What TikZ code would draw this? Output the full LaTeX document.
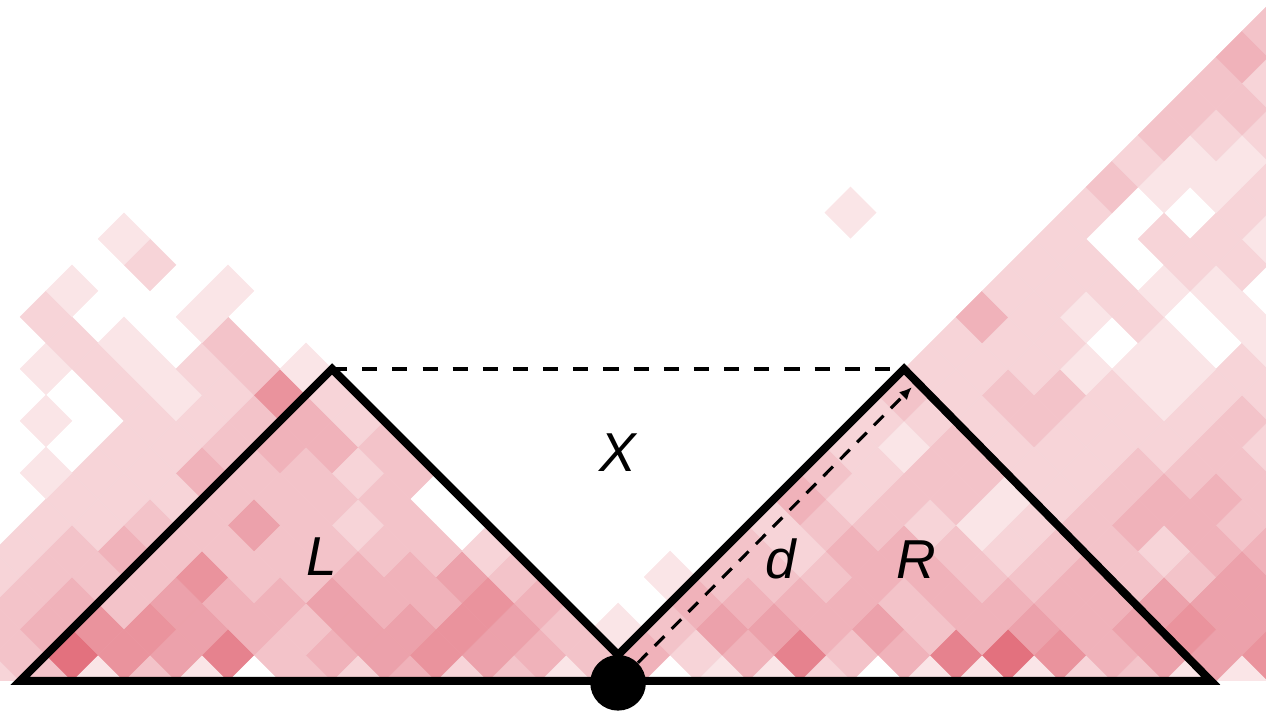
\documentclass[tikz,border=0pt]{standalone}
\usepackage{fontspec}
\setmainfont{Liberation Sans}
\usetikzlibrary{arrows.meta}
\definecolor{heat}{RGB}{218,68,86}

\begin{document}
\begin{tikzpicture}[x=0.5cm, y=0.5cm,
  tri/.style={line width=4.4pt, line join=miter},
  guide/.style={line width=2pt, dash pattern=on 0.29cm off 0.29cm},
  darr/.style={line width=1.7pt, dash pattern=on 0.26cm off 0.2cm, -{Latex[length=2.4mm,width=2.2mm]}},
  hub/.style={circle, fill=black, inner sep=0pt, minimum size=1.07cm},
  lab/.style={font=\fontsize{30}{36}\selectfont\itshape, inner sep=0pt}
]
\useasboundingbox (-23.77,-1.154) rectangle (24.92,26.19);

% contact map: row b = distance, values from bin a0 in steps of 2
\begin{scope}
\clip (-23.77,0) rectangle (24.92,26.19);
\foreach \b/\s/\vals in {
  0/-24/{2,3,1,3,1,0,3,2,4,2,3,1,2,0,1,1,2,0,1,1,1,2,3,1,1},
  1/-23/{3,8,6,5,7,3,4,5,6,5,4,3,4,2,4,7,3,4,7,8,6,4,5,5,6},
  2/-24/{3,4,6,6,5,4,3,5,5,6,5,3,1,3,5,5,4,5,3,4,5,4,5,6,5},
  3/-23/{3,4,3,5,4,4,5,4,4,6,4,0,0,4,4,4,4,3,4,4,4,4,5,5,5},
  4/-24/{2,3,3,3,6,3,3,4,4,5,3,0,0,1,3,3,3,4,4,3,3,4,3,3,5},
  5/-23/{2,3,4,3,3,3,3,3,3,2,0,0,0,0,3,2,4,4,3,2,3,3,2,4,4},
  6/-24/{0,2,2,3,3,5,3,2,3,0,0,0,0,0,0,2,3,3,2,1,2,3,4,4,3},
  7/-21/{2,2,2,3,3,3,3}, 7/7/{4,2,3,3,1,2,3,4,4,3},
  8/-22/{1,2,2,4,3,3,2,3}, 8/8/{3,2,3,3,2,2,3,3,3},
  9/-19/{2,2,3,4,4,3}, 9/9/{2,1,3,2,2,2,2,3,2},
  10/-22/{1,0,2,2,3,4,2}, 10/10/{2,2,2,3,2,2,2,3},
  11/-19/{2,1,2,6,2}, 11/11/{3,2,3,3,2,1,2,2},
  12/-22/{1,2,1,2,3,1}, 12/12/{2,2,2,1,1,1,2},
  13/-21/{2,1,0,3}, 13/13/{2,2,2,0,1,0,1},
  14/-22/{2,0,0,1}, 14/14/{4,2,1,2,0,1},
  15/-21/{1,0,0,1}, 15/15/{2,2,2,1,1},
  16/-18/{2}, 16/16/{2,2,0,2,2},
  17/-19/{1}, 17/17/{2,0,2,2,1},
  18/18/{2,0,0,2}, 19/19/{3,1,1,2}, 20/20/{2,1,1},
  21/21/{3,2,2}, 22/22/{3,3}, 23/23/{3,2}, 24/24/{4}, 25/25/{3}}{
  \foreach \v [count=\k from 0] in \vals {
    \ifnum\v>0
      \pgfmathsetmacro\a{\s+2*\k}
      \pgfmathtruncatemacro\p{6+8.8*\v}
      \fill[heat!\p, draw=heat!\p, line width=0.2pt] (\a-1,\b) -- (\a,\b+1) -- (\a+1,\b) -- (\a,\b-1) -- cycle;
    \fi
  }
}
\fill[heat!14] (7.94,18.01) -- (8.94,19.01) -- (9.94,18.01) -- (8.94,17.01) -- cycle;
\end{scope}

\coordinate (leftend) at (-23,0);
\coordinate (apexL) at (-11,12);
\coordinate (mid) at (0,1);
\coordinate (apexR) at (11,12);
\coordinate (rightend) at (22.8,0);
\coordinate (tip) at (11.3,11.3);

\draw[guide] (apexL) -- (apexR);
\draw[tri] (leftend) -- (apexL) -- (mid) -- (apexR) -- (rightend) -- cycle;
\node[hub] (dot) at (0,-0.07) {};
\draw[darr] (dot) -- (tip);

\node[lab] (labX) at (0,8.8) {X};
\node[lab] (labL) at (-11.38,4.77) {L};
\node[lab] (labR) at (11.46,4.65) {R};
\node[lab] (labd) at (6.27,4.69) {d};
\end{tikzpicture}
\end{document}
